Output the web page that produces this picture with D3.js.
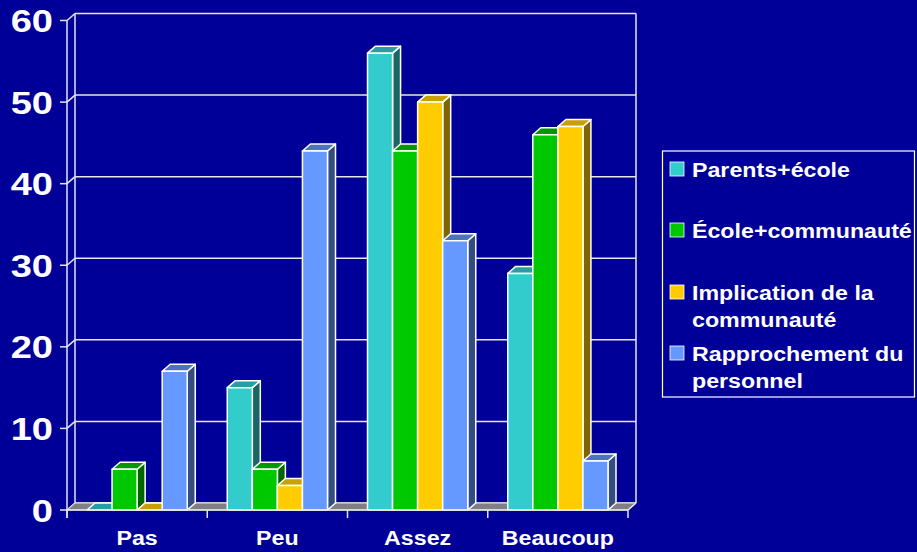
<!DOCTYPE html>
<html><head><meta charset="utf-8">
<script src="https://cdn.jsdelivr.net/npm/d3@7"></script>
<style>html,body{margin:0;padding:0;background:#000099;overflow:hidden}svg{display:block}</style>
</head><body>
<svg id="c" width="917" height="552"></svg>
<script>
const categories = ["Pas", "Peu", "Assez", "Beaucoup"];
const seriesNames = ["Parents+école", "École+communauté", "Implication de la\ncommunauté", "Rapprochement du\npersonnel"];
const parentsEcole = [0, 15, 56, 29];
const ecoleCommunaute = [5, 5, 44, 46];
const implication = [0, 3, 50, 47];
const rapprochement = [17, 44, 33, 6];
const yTicks = [0, 10, 20, 30, 40, 50, 60];

const seriesValues = [parentsEcole, ecoleCommunaute, implication, rapprochement];
const colors = [
  {front: "#33CCCC", top: "#2A9E9E", side: "#1A6666"},
  {front: "#00C800", top: "#009900", side: "#006600"},
  {front: "#FFCC00", top: "#C8A000", side: "#806600"},
  {front: "#6699FF", top: "#4D73BF", side: "#334D80"}
];

const svg = d3.select("#c");
const DX = 8, DY = -7;
const SX = 1.19;
const font = "'Liberation Sans', Arial, sans-serif";

const x = d3.scaleBand().domain(categories).range([67, 628]).paddingInner(0.2852).paddingOuter(0.1426);
const xs = d3.scaleBand().domain(d3.range(4)).range([0, x.bandwidth()]).padding(0);
const y = d3.scaleLinear().domain([0, 60]).range([510, 20.5]);
const x0 = 67, x1 = 628, yb = y(0);
const lineCol = "#E6E6E6";

// back wall gridlines
const g = svg.append("g");
yTicks.forEach(t => {
  g.append("line").attr("x1", x0 + DX).attr("x2", x1 + DX).attr("y1", y(t) + DY).attr("y2", y(t) + DY)
    .attr("stroke", lineCol).attr("stroke-width", 1.5);
  g.append("line").attr("x1", x0).attr("x2", x0 + DX).attr("y1", y(t)).attr("y2", y(t) + DY)
    .attr("stroke", lineCol).attr("stroke-width", 1.5);
  g.append("line").attr("x1", x0 - 7).attr("x2", x0).attr("y1", y(t)).attr("y2", y(t))
    .attr("stroke", lineCol).attr("stroke-width", 1.5);
});
g.append("line").attr("x1", x0 + DX).attr("x2", x0 + DX).attr("y1", y(60) + DY).attr("y2", yb + DY).attr("stroke", lineCol).attr("stroke-width", 1.5);
g.append("line").attr("x1", x1 + DX).attr("x2", x1 + DX).attr("y1", y(60) + DY).attr("y2", yb + DY).attr("stroke", lineCol).attr("stroke-width", 1.5);
g.append("line").attr("x1", x0).attr("x2", x0).attr("y1", y(60)).attr("y2", yb + 8).attr("stroke", lineCol).attr("stroke-width", 1.5);

// floor
g.append("polygon").attr("points", [[x0, yb], [x0 + DX, yb + DY], [x1 + DX, yb + DY], [x1, yb]].map(p => p.join(",")).join(" "))
  .attr("fill", "#808080").attr("stroke", lineCol).attr("stroke-width", 1);

// bars
const bars = svg.append("g");
categories.forEach((c, ci) => {
  seriesValues.forEach((vals, si) => {
    const bx = x(c) + xs(si), w = xs.bandwidth(), ty = y(vals[ci]);
    const col = colors[si];
    const bg = bars.append("g").attr("stroke", "#FFFFFF").attr("stroke-width", 1.5).attr("stroke-linejoin", "round");
    bg.append("polygon").attr("points", [[bx + w, ty], [bx + w + DX, ty + DY], [bx + w + DX, yb + DY], [bx + w, yb]].map(p => p.join(",")).join(" ")).attr("fill", col.side);
    bg.append("polygon").attr("points", [[bx, ty], [bx + DX, ty + DY], [bx + w + DX, ty + DY], [bx + w, ty]].map(p => p.join(",")).join(" ")).attr("fill", col.top);
    if (vals[ci] > 0) bg.append("rect").attr("x", bx).attr("y", ty).attr("width", w).attr("height", yb - ty).attr("fill", col.front);
  });
});

// front x axis
const ax = svg.append("g");
ax.append("line").attr("x1", x0).attr("x2", x1).attr("y1", yb).attr("y2", yb).attr("stroke", lineCol).attr("stroke-width", 1.5);
const bounds = categories.map(c => x(c) - (x.step() - x.bandwidth()) / 2).concat([x1]);
bounds.forEach(b => ax.append("line").attr("x1", b).attr("x2", b).attr("y1", yb).attr("y2", yb + 8).attr("stroke", lineCol).attr("stroke-width", 1.5));
ax.append("line").attr("x1", x1).attr("x2", x1 + DX).attr("y1", yb).attr("y2", yb + DY).attr("stroke", lineCol).attr("stroke-width", 1.5);

function stext(parent, tx, ty, str, size, anchor) {
  return parent.append("text").attr("transform", `translate(${tx},${ty}) scale(${SX},1)`)
    .attr("text-anchor", anchor).attr("font-family", font).attr("font-weight", "bold")
    .attr("font-size", size).attr("fill", "#FFFFFF").text(str);
}

// y labels
yTicks.forEach(t => stext(svg, 53, y(t) + 11.5, t, 32, "end"));
// category labels
categories.forEach(c => stext(svg, x(c) + x.bandwidth() / 2, 545, c, 19.5, "middle"));

// legend
const lg = svg.append("g");
lg.append("rect").attr("x", 662.5).attr("y", 151).attr("width", 252).attr("height", 246)
  .attr("fill", "none").attr("stroke", "#FFFFFF").attr("stroke-width", 1.2);
const legY = [177, 238, 300, 361];
seriesNames.forEach((n, i) => {
  lg.append("rect").attr("x", 670).attr("y", legY[i] - 15).attr("width", 14).attr("height", 14)
    .attr("fill", colors[i].front).attr("stroke", "#FFFFFF").attr("stroke-width", 0.8);
  n.split("\n").forEach((line, li) => {
    stext(lg, 692, legY[i] + li * 27, line, 19.5, "start");
  });
});
</script>
</body></html>
